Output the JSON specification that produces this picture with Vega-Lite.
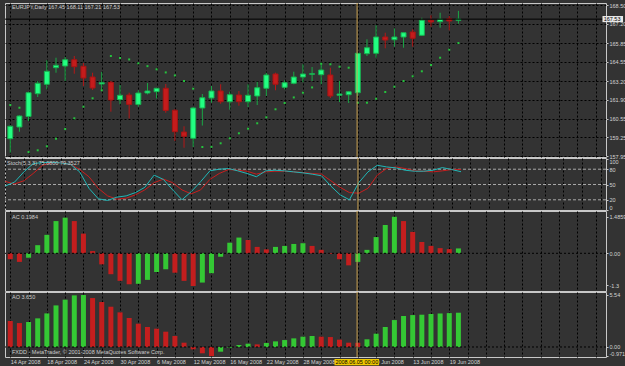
{
  "$schema": "https://vega.github.io/schema/vega-lite/v6.json",
  "background": "#333333",
  "padding": {"left": 2, "top": 2, "right": 0, "bottom": 0},
  "spacing": 1,
  "bounds": "flush",
  "config": {
    "view": {"stroke": "#c8c8c8", "strokeWidth": 1, "fill": "#333333"},
    "axis": {"labelFont": "Liberation Sans", "labelFontSize": 5.5, "labelColor": "#d4d4d4", "gridColor": "#000000", "gridDash": [2, 2], "gridOpacity": 1, "domain": false, "tickColor": "#c8c8c8", "tickSize": 2, "labelPadding": 1, "labelOverlap": false, "tickCount": 100},
    "text": {"font": "Liberation Sans", "fontSize": 5.5, "color": "#cccccc"}
  },
  "datasets": {
    "bars": [
      {"i":0,"date":"2008-04-14","o":159.16,"h":160.10,"l":158.18,"c":160.03,"sar":161.52,"k":47.1,"d":56.1,"ac":-0.24,"ao":2.77},
      {"i":1,"date":"2008-04-15","o":159.98,"h":160.80,"l":159.65,"c":160.75,"sar":161.33,"k":54.8,"d":51.0,"ac":-0.35,"ao":2.55},
      {"i":2,"date":"2008-04-16","o":160.72,"h":162.45,"l":160.40,"c":162.38,"sar":158.23,"k":74.8,"d":57.4,"ac":-0.18,"ao":2.66},
      {"i":3,"date":"2008-04-17","o":162.31,"h":163.20,"l":162.08,"c":163.04,"sar":158.35,"k":91.0,"d":71.6,"ac":0.33,"ao":3.05},
      {"i":4,"date":"2008-04-18","o":162.97,"h":164.65,"l":162.62,"c":163.88,"sar":158.63,"k":93.0,"d":87.7,"ac":0.75,"ao":3.58},
      {"i":5,"date":"2008-04-21","o":164.13,"h":164.83,"l":163.78,"c":164.30,"sar":159.16,"k":93.5,"d":92.9,"ac":1.31,"ao":4.43},
      {"i":6,"date":"2008-04-22","o":164.25,"h":164.88,"l":163.20,"c":164.69,"sar":159.84,"k":92.3,"d":92.9,"ac":1.45,"ao":5.04},
      {"i":7,"date":"2008-04-23","o":164.69,"h":164.95,"l":163.71,"c":164.20,"sar":160.59,"k":89.7,"d":89.7,"ac":1.31,"ao":5.50},
      {"i":8,"date":"2008-04-24","o":164.23,"h":164.46,"l":162.85,"c":163.41,"sar":161.40,"k":74.8,"d":79.4,"ac":0.80,"ao":5.54},
      {"i":9,"date":"2008-04-25","o":163.48,"h":163.78,"l":162.57,"c":162.71,"sar":161.99,"k":42.6,"d":65.2,"ac":0.09,"ao":5.21},
      {"i":10,"date":"2008-04-28","o":162.99,"h":163.83,"l":162.64,"c":163.08,"sar":162.55,"k":22.0,"d":42.6,"ac":-0.45,"ao":4.79},
      {"i":11,"date":"2008-04-29","o":163.11,"h":163.20,"l":161.05,"c":161.87,"sar":164.95,"k":18.7,"d":27.7,"ac":-0.85,"ao":4.29},
      {"i":12,"date":"2008-04-30","o":161.89,"h":162.92,"l":161.57,"c":162.20,"sar":164.81,"k":25.2,"d":21.3,"ac":-1.12,"ao":3.69},
      {"i":13,"date":"2008-05-01","o":162.22,"h":162.38,"l":160.58,"c":161.56,"sar":164.71,"k":27.7,"d":23.2,"ac":-1.26,"ao":3.09},
      {"i":14,"date":"2008-05-02","o":161.56,"h":162.55,"l":161.40,"c":162.36,"sar":164.44,"k":34.2,"d":29.7,"ac":-1.24,"ao":2.48},
      {"i":15,"date":"2008-05-05","o":162.36,"h":163.06,"l":162.26,"c":162.50,"sar":164.24,"k":44.5,"d":39.4,"ac":-1.08,"ao":2.13},
      {"i":16,"date":"2008-05-06","o":162.45,"h":162.72,"l":161.98,"c":162.69,"sar":164.02,"k":68.4,"d":53.5,"ac":-0.76,"ao":1.95},
      {"i":17,"date":"2008-05-07","o":162.69,"h":162.99,"l":160.98,"c":161.14,"sar":163.80,"k":60.0,"d":60.6,"ac":-0.65,"ao":1.63},
      {"i":18,"date":"2008-05-08","o":161.15,"h":161.22,"l":159.00,"c":159.65,"sar":163.59,"k":39.4,"d":53.5,"ac":-0.79,"ao":1.17},
      {"i":19,"date":"2008-05-09","o":159.63,"h":160.03,"l":158.53,"c":159.33,"sar":163.20,"k":20.0,"d":39.4,"ac":-1.12,"ao":0.46},
      {"i":20,"date":"2008-05-12","o":159.19,"h":161.38,"l":158.58,"c":161.31,"sar":162.66,"k":36.1,"d":31.6,"ac":-1.33,"ao":-0.25},
      {"i":21,"date":"2008-05-13","o":161.31,"h":162.29,"l":160.08,"c":162.03,"sar":158.58,"k":55.5,"d":39.4,"ac":-1.19,"ao":-0.67},
      {"i":22,"date":"2008-05-14","o":162.01,"h":162.85,"l":161.68,"c":162.50,"sar":158.59,"k":76.8,"d":60.0,"ac":-0.81,"ao":-0.971},
      {"i":23,"date":"2008-05-15","o":162.50,"h":162.97,"l":161.61,"c":161.75,"sar":158.84,"k":80.0,"d":71.6,"ac":-0.14,"ao":-0.50},
      {"i":24,"date":"2008-05-16","o":161.75,"h":162.45,"l":161.19,"c":162.24,"sar":159.19,"k":81.3,"d":79.4,"ac":0.43,"ao":-0.07},
      {"i":25,"date":"2008-05-19","o":162.22,"h":162.50,"l":161.47,"c":161.75,"sar":159.54,"k":76.8,"d":78.0,"ac":0.64,"ao":0.21},
      {"i":26,"date":"2008-05-20","o":161.75,"h":162.97,"l":161.38,"c":162.20,"sar":159.86,"k":71.6,"d":76.1,"ac":0.54,"ao":0.35},
      {"i":27,"date":"2008-05-21","o":162.15,"h":163.15,"l":161.52,"c":162.73,"sar":160.24,"k":65.2,"d":70.3,"ac":0.26,"ao":0.28},
      {"i":28,"date":"2008-05-22","o":162.69,"h":163.78,"l":162.15,"c":163.62,"sar":160.66,"k":76.8,"d":74.8,"ac":0.16,"ao":0.43},
      {"i":29,"date":"2008-05-23","o":163.69,"h":163.78,"l":162.55,"c":162.97,"sar":161.22,"k":78.0,"d":76.1,"ac":0.26,"ao":0.60},
      {"i":30,"date":"2008-05-26","o":162.76,"h":163.25,"l":162.62,"c":163.08,"sar":161.66,"k":76.8,"d":76.1,"ac":0.30,"ao":0.74},
      {"i":31,"date":"2008-05-27","o":163.04,"h":163.85,"l":162.97,"c":163.48,"sar":162.05,"k":74.8,"d":74.8,"ac":0.38,"ao":0.92},
      {"i":32,"date":"2008-05-28","o":163.48,"h":164.37,"l":163.11,"c":163.69,"sar":162.38,"k":72.9,"d":73.5,"ac":0.41,"ao":1.10},
      {"i":33,"date":"2008-05-29","o":163.67,"h":164.18,"l":163.20,"c":163.71,"sar":162.75,"k":70.3,"d":71.6,"ac":0.30,"ao":1.17},
      {"i":34,"date":"2008-05-30","o":163.64,"h":164.46,"l":162.97,"c":163.97,"sar":164.41,"k":67.1,"d":70.3,"ac":0.14,"ao":1.10},
      {"i":35,"date":"2008-06-02","o":163.62,"h":164.13,"l":162.01,"c":162.15,"sar":164.37,"k":47.1,"d":57.4,"ac":-0.03,"ao":1.06},
      {"i":36,"date":"2008-06-03","o":162.20,"h":163.20,"l":161.73,"c":162.29,"sar":164.20,"k":29.7,"d":44.5,"ac":-0.24,"ao":0.78},
      {"i":37,"date":"2008-06-04","o":162.24,"h":162.50,"l":161.66,"c":162.45,"sar":164.13,"k":20.0,"d":34.2,"ac":-0.49,"ao":0.46},
      {"i":38,"date":"2008-06-05","o":162.38,"h":165.16,"l":162.15,"c":165.14,"sar":161.68,"k":53.5,"d":32.9,"ac":-0.35,"ao":0.45},
      {"i":39,"date":"2008-06-06","o":165.11,"h":166.12,"l":164.95,"c":165.53,"sar":161.68,"k":74.8,"d":42.6,"ac":0.14,"ao":0.82},
      {"i":40,"date":"2008-06-09","o":165.14,"h":167.10,"l":164.83,"c":166.28,"sar":161.96,"k":87.7,"d":68.4,"ac":0.66,"ao":1.42},
      {"i":41,"date":"2008-06-10","o":166.28,"h":166.58,"l":165.49,"c":166.07,"sar":162.43,"k":84.5,"d":81.3,"ac":1.15,"ao":2.13},
      {"i":42,"date":"2008-06-11","o":166.09,"h":166.89,"l":165.60,"c":166.28,"sar":162.80,"k":82.6,"d":84.5,"ac":1.4859,"ao":2.87},
      {"i":43,"date":"2008-06-12","o":166.28,"h":166.60,"l":165.53,"c":166.58,"sar":163.20,"k":78.0,"d":81.3,"ac":1.31,"ao":3.30},
      {"i":44,"date":"2008-06-13","o":166.63,"h":166.82,"l":165.60,"c":166.19,"sar":163.53,"k":76.1,"d":76.8,"ac":0.87,"ao":3.40},
      {"i":45,"date":"2008-06-16","o":166.40,"h":167.63,"l":166.35,"c":167.45,"sar":163.88,"k":76.1,"d":76.1,"ac":0.46,"ao":3.44},
      {"i":46,"date":"2008-06-17","o":167.45,"h":167.80,"l":167.00,"c":167.33,"sar":164.32,"k":78.0,"d":74.8,"ac":0.30,"ao":3.52},
      {"i":47,"date":"2008-06-18","o":167.35,"h":167.98,"l":166.93,"c":167.52,"sar":164.83,"k":83.2,"d":76.8,"ac":0.21,"ao":3.57},
      {"i":48,"date":"2008-06-19","o":167.56,"h":167.75,"l":166.75,"c":167.40,"sar":165.39,"k":79.4,"d":79.4,"ac":0.17,"ao":3.61},
      {"i":49,"date":"2008-06-20","o":167.45,"h":168.11,"l":167.21,"c":167.53,"sar":165.86,"k":75.08,"d":79.35,"ac":0.1984,"ao":3.65}
    ]
  },
  "vconcat": [
    {
      "width": 601, "height": 154,
      "layer": [
        {
          "data": {"name": "bars"},
          "mark": {"type": "rule", "strokeWidth": 1},
          "encoding": {
            "x": {"field": "i", "type": "quantitative", "scale": {"domain": [-0.03, 64.59], "nice": false, "zero": false},
                  "axis": {"values": [0,2,4,6,8,10,12,14,16,18,20,22,24,26,28,30,32,34,36,38,40,42,44,46,48,50,52,54,56,58,60,62,64], "tickCount": 100, "grid": true, "labels": false, "ticks": false, "domain": false, "title": null}},
            "y": {"field": "l", "type": "quantitative", "scale": {"domain": [157.88, 168.66], "nice": false, "zero": false},
                  "axis": {"orient": "right", "values": [157.95,159.25,160.55,161.9,163.2,164.55,165.85,167.2,168.5], "tickCount": 100, "format": ".2f", "grid": true, "title": null}},
            "y2": {"field": "h"},
            "color": {"condition": {"test": "datum.c >= datum.o", "value": "#1aa846"}, "value": "#b41818"}
          }
        },
        {
          "data": {"name": "bars"},
          "mark": {"type": "bar", "size": 5, "strokeWidth": 1},
          "encoding": {
            "x": {"field": "i", "type": "quantitative"},
            "y": {"field": "o", "type": "quantitative"},
            "y2": {"field": "c"},
            "fill": {"condition": {"test": "datum.c >= datum.o", "value": "#22ff82"}, "value": "#c41c1c"},
            "stroke": {"condition": {"test": "datum.c >= datum.o", "value": "#19b050"}, "value": "#a81414"}
          }
        },
        {
          "data": {"name": "bars"},
          "mark": {"type": "point", "shape": "square", "size": 4, "filled": true, "opacity": 1},
          "encoding": {
            "x": {"field": "i", "type": "quantitative"},
            "y": {"field": "sar", "type": "quantitative"},
            "color": {"value": "#26c23e"}
          }
        },
        {
          "data": {"values": [{}]},
          "mark": {"type": "rule", "color": "#000000", "strokeWidth": 1},
          "encoding": {"y": {"datum": 167.53}}
        },
        {
          "data": {"values": [{}]},
          "mark": {"type": "rule", "color": "#c8a050", "strokeWidth": 1},
          "encoding": {"x": {"datum": 37.92}}
        },
        {
          "data": {"values": [{}]},
          "mark": {"type": "text", "align": "left", "baseline": "top", "dx": 2, "dy": 1.5},
          "encoding": {"x": {"datum": -0.03}, "y": {"datum": 168.66}, "text": {"value": "EURJPY,Daily  167.45 168.11 167.21 167.53"}}
        },
        {
          "data": {"values": [{}]},
          "mark": {"type": "rect", "color": "#e6e6e6"},
          "encoding": {"x": {"datum": 64.75}, "x2": {"datum": 67.0}, "y": {"datum": 167.75}, "y2": {"datum": 167.32}}
        },
        {
          "data": {"values": [{}]},
          "mark": {"type": "text", "align": "center", "baseline": "middle", "color": "#000000"},
          "encoding": {"x": {"datum": 65.8}, "y": {"datum": 167.53}, "text": {"value": "167.53"}}
        }
      ]
    },
    {
      "width": 601, "height": 52,
      "layer": [
        {
          "data": {"values": [{"lv": 20}, {"lv": 50}, {"lv": 80}]},
          "mark": {"type": "rule", "color": "#a8a8a8", "strokeDash": [3, 2], "strokeWidth": 1},
          "encoding": {"y": {"field": "lv", "type": "quantitative", "scale": {"domain": [0, 102], "nice": false, "zero": false},
                             "axis": {"orient": "right", "values": [0, 20, 50, 80, 100], "tickCount": 100, "format": "d", "grid": false, "labelFlush": 3, "title": null}}}
        },
        {
          "data": {"name": "bars"},
          "mark": {"type": "line", "color": "#c81e1e", "strokeWidth": 1},
          "encoding": {
            "x": {"field": "i", "type": "quantitative", "scale": {"domain": [-0.03, 64.59], "nice": false, "zero": false},
                  "axis": {"values": [0,2,4,6,8,10,12,14,16,18,20,22,24,26,28,30,32,34,36,38,40,42,44,46,48,50,52,54,56,58,60,62,64], "tickCount": 100, "grid": true, "labels": false, "ticks": false, "domain": false, "title": null}},
            "y": {"field": "d", "type": "quantitative"}
          }
        },
        {
          "data": {"name": "bars"},
          "mark": {"type": "line", "color": "#20b8b8", "strokeWidth": 1},
          "encoding": {
            "x": {"field": "i", "type": "quantitative"},
            "y": {"field": "k", "type": "quantitative"}
          }
        },
        {
          "data": {"values": [{}]},
          "mark": {"type": "rule", "color": "#c8a050", "strokeWidth": 1},
          "encoding": {"x": {"datum": 37.92}}
        },
        {
          "data": {"values": [{}]},
          "mark": {"type": "text", "align": "left", "baseline": "top", "dx": 2, "dy": 2.5},
          "encoding": {"x": {"datum": -0.03}, "y": {"datum": 102}, "text": {"value": "Stoch(5,3,3) 75.0800 79.3527"}}
        }
      ]
    },
    {
      "width": 601, "height": 80,
      "transform": [{"window": [{"op": "lag", "field": "ac", "as": "acPrev"}], "sort": [{"field": "i"}]}],
      "data": {"name": "bars"},
      "layer": [
        {
          "mark": {"type": "bar", "size": 5},
          "encoding": {
            "x": {"field": "i", "type": "quantitative", "scale": {"domain": [-0.03, 64.59], "nice": false, "zero": false},
                  "axis": {"values": [0,2,4,6,8,10,12,14,16,18,20,22,24,26,28,30,32,34,36,38,40,42,44,46,48,50,52,54,56,58,60,62,64], "tickCount": 100, "grid": true, "labels": false, "ticks": false, "domain": false, "title": null}},
            "y": {"field": "ac", "type": "quantitative", "stack": null, "scale": {"domain": [-1.533, 1.72], "nice": false, "zero": false},
                  "axis": {"orient": "right", "values": [-1.3, 0, 1.4859], "tickCount": 100, "labelExpr": "datum.value == 0 ? '0.00' : (datum.value < 0 ? '-1.3' : '1.4859')", "grid": false, "title": null}},
            "color": {"condition": {"test": "datum.acPrev != null && datum.ac > datum.acPrev", "value": "#34c834"}, "value": "#c41e1e"}
          }
        },
        {
          "data": {"values": [{}]},
          "mark": {"type": "rule", "color": "#000000", "strokeDash": [2, 2], "strokeWidth": 1},
          "encoding": {"y": {"datum": 0}}
        },
        {
          "data": {"values": [{}]},
          "mark": {"type": "rule", "color": "#c8a050", "strokeWidth": 1},
          "encoding": {"x": {"datum": 37.92}}
        },
        {
          "data": {"values": [{}]},
          "mark": {"type": "text", "align": "left", "baseline": "top", "dx": 2, "dy": 3.5},
          "encoding": {"x": {"datum": -0.03}, "y": {"datum": 1.72}, "text": {"value": "AC 0.1984"}}
        }
      ]
    },
    {
      "width": 601, "height": 65,
      "transform": [{"window": [{"op": "lag", "field": "ao", "as": "aoPrev"}], "sort": [{"field": "i"}]}],
      "data": {"name": "bars"},
      "layer": [
        {
          "mark": {"type": "bar", "size": 5},
          "encoding": {
            "x": {"field": "i", "type": "quantitative", "scale": {"domain": [-0.03, 64.59], "nice": false, "zero": false},
                  "axis": {"values": [0,2,4,6,8,10,12,14,16,18,20,22,24,26,28,30,32,34,36,38,40,42,44,46,48,50,52,54,56,58,60,62,64], "tickCount": 100, "grid": true, "labels": true, "ticks": false, "domain": false, "title": null,
                           "labelAlign": "left", "labelBaseline": "top", "labelPadding": 2,
                           "labelExpr": "datum.value % 4 == 0 && datum.value <= 48 && datum.value != 36 ? ['14 Apr 2008','18 Apr 2008','24 Apr 2008','30 Apr 2008','6 May 2008','12 May 2008','16 May 2008','22 May 2008','28 May 2008','3 Jun 2008','9 Jun 2008','13 Jun 2008','19 Jun 2008'][datum.value / 4] : ''"}},
            "y": {"field": "ao", "type": "quantitative", "stack": null, "scale": {"domain": [-1.065, 5.857], "nice": false, "zero": false},
                  "axis": {"orient": "right", "values": [-0.971, 0, 5.54], "tickCount": 100, "labelExpr": "datum.value == 0 ? '0.00' : (datum.value < 0 ? '-0.971' : '5.54')", "grid": false, "labelFlush": 2, "title": null}},
            "color": {"condition": {"test": "datum.aoPrev != null && datum.ao > datum.aoPrev", "value": "#34c834"}, "value": "#c41e1e"}
          }
        },
        {
          "data": {"values": [{}]},
          "mark": {"type": "rule", "color": "#000000", "strokeDash": [2, 2], "strokeWidth": 1},
          "encoding": {"y": {"datum": 0}}
        },
        {
          "data": {"values": [{}]},
          "mark": {"type": "rule", "color": "#c8a050", "strokeWidth": 1},
          "encoding": {"x": {"datum": 37.92}}
        },
        {
          "data": {"values": [{}]},
          "mark": {"type": "text", "align": "left", "baseline": "top", "dx": 2, "dy": 2.5},
          "encoding": {"x": {"datum": -0.03}, "y": {"datum": 5.857}, "text": {"value": "AO 3.650"}}
        },
        {
          "data": {"values": [{}]},
          "mark": {"type": "text", "align": "left", "baseline": "bottom", "dx": 2, "dy": -2},
          "encoding": {"x": {"datum": -0.03}, "y": {"datum": -1.065}, "text": {"value": "FXDD - MetaTrader, © 2001-2008 MetaQuotes Software Corp."}}
        },
        {
          "data": {"values": [{}]},
          "mark": {"type": "rect", "color": "#f0c800"},
          "encoding": {"x": {"datum": 35.45}, "x2": {"datum": 40.32}, "y": {"datum": -1.28}, "y2": {"datum": -1.95}}
        },
        {
          "data": {"values": [{}]},
          "mark": {"type": "text", "align": "center", "baseline": "middle", "color": "#000000"},
          "encoding": {"x": {"datum": 37.89}, "y": {"datum": -1.62}, "text": {"value": "2008.06.05 00:00"}}
        }
      ]
    }
  ]
}
